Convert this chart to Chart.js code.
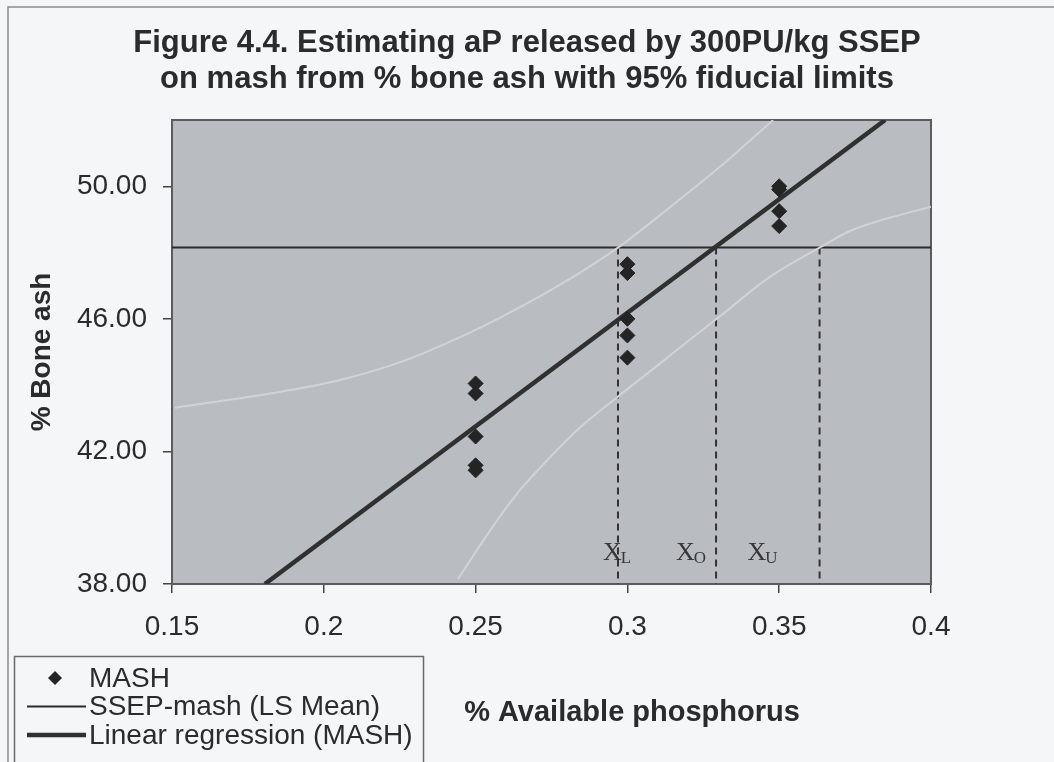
<!DOCTYPE html>
<html>
<head>
<meta charset="utf-8">
<script src="https://cdn.jsdelivr.net/npm/chart.js@4.4.1/dist/chart.umd.min.js"></script>
<style>
    html, body { margin: 0; padding: 0; background: #f5f6f8; }
    #wrap { width: 1054px; height: 762px; }
</style>
</head>
<body>
<div id="wrap"><canvas id="fig44"></canvas></div>
<script>
// MASH bone ash observations
const mashX = [0.25, 0.25, 0.25, 0.25, 0.25, 0.3, 0.3, 0.3, 0.3, 0.3, 0.35, 0.35, 0.35, 0.35];
const mashY = [44.05, 43.75, 42.45, 41.58, 41.43, 47.65, 47.38, 46.0, 45.5, 44.83, 50.0, 49.9, 49.25, 48.8];

// SSEP-mash LS mean bone ash
const lsMean = 48.15;

// regression line, ends where it leaves the plot
const regX = [0.1806, 0.3849];
const regY = [38, 52];

// 95% fiducial bands
const upperX = [0.151, 0.15995, 0.1818, 0.2047, 0.2266, 0.2485, 0.2584, 0.2773, 0.2969, 0.3131, 0.33, 0.34, 0.348];
const upperY = [43.32, 43.44, 43.74, 44.14, 44.74, 45.6, 46.05, 47.0, 48.15, 49.3, 50.55, 51.35, 52.0];
const lowerX = [0.2442, 0.2548, 0.2646, 0.2745, 0.2844, 0.2952, 0.3107, 0.3196, 0.3315, 0.3459, 0.3633, 0.3733, 0.3864, 0.4];
const lowerY = [38.15, 39.62, 40.83, 41.82, 42.72, 43.53, 44.65, 45.3, 46.15, 47.2, 48.15, 48.65, 49.05, 49.38];

// XL, XO, XU
const limitX = [0.2969, 0.3292, 0.3633];
const limitNames = ['L', 'O', 'U'];

const xTicks = [0.15, 0.2, 0.25, 0.3, 0.35, 0.4];
const yTicks = [38, 42, 46, 50];

const ink = '#2b2b2b';
const sans = '"Liberation Sans", Arial, sans-serif';
const serif = '"Liberation Serif", "Times New Roman", serif';
const pts = (xs, ys) => xs.map((x, i) => ({ x, y: ys[i] }));

Chart.defaults.font.family = sans;
Chart.defaults.color = ink;

const frame = {
    id: 'frame',
    beforeDraw(chart) {
        const { ctx, chartArea: a } = chart;
        ctx.save();
        ctx.fillStyle = '#f5f6f8';
        ctx.fillRect(0, 0, chart.width, chart.height);
        ctx.strokeStyle = '#8c8c8c';
        ctx.lineWidth = 1.5;
        ctx.strokeRect(8, 7, chart.width + 20, chart.height + 20);
        ctx.fillStyle = '#b9bcc0';
        ctx.fillRect(a.left, a.top, a.width, a.height);
        ctx.restore();
    },
    beforeDatasetsDraw(chart) {
        const { ctx, chartArea: a } = chart;
        ctx.save();
        ctx.strokeStyle = '#5c5c5c';
        ctx.lineWidth = 2;
        ctx.strokeRect(a.left, a.top, a.width, a.height);
        ctx.restore();
    }
};

// X_L / X_O / X_U labels near the foot of the dashed lines
const limitLabels = {
    id: 'limitLabels',
    afterDatasetsDraw(chart) {
        const { ctx, scales: { x, y } } = chart;
        const shift = [-15, -40, -72];
        const base = y.getPixelForValue(38) - 24;
        ctx.save();
        ctx.fillStyle = '#383838';
        ctx.textBaseline = 'alphabetic';
        limitX.forEach((v, i) => {
            const px = x.getPixelForValue(v) + shift[i];
            ctx.font = '26px ' + serif;
            ctx.fillText('X', px, base);
            const w = ctx.measureText('X').width;
            ctx.font = '17px ' + serif;
            ctx.fillText(limitNames[i], px + w - 1, base + 3);
        });
        ctx.restore();
    }
};

// boxed legend in the lower left, plus the x axis title beside it
const boxLegend = {
    id: 'boxLegend',
    afterDraw(chart) {
        const { ctx } = chart;
        const items = chart.data.datasets.filter(d => d.legendKind);
        ctx.save();
        ctx.strokeStyle = '#6a6a6a';
        ctx.lineWidth = 1.5;
        ctx.strokeRect(14.5, 656.5, 409, 130);
        ctx.font = '28px ' + sans;
        ctx.textBaseline = 'middle';
        items.forEach((d, i) => {
            const yy = 678 + i * 28.5;
            ctx.fillStyle = d.borderColor;
            ctx.strokeStyle = d.borderColor;
            if (d.legendKind === 'marker') {
                ctx.beginPath();
                ctx.moveTo(55, yy - 7);
                ctx.lineTo(62, yy);
                ctx.lineTo(55, yy + 7);
                ctx.lineTo(48, yy);
                ctx.closePath();
                ctx.fill();
            } else {
                ctx.lineWidth = d.borderWidth;
                ctx.beginPath();
                ctx.moveTo(27, yy);
                ctx.lineTo(86, yy);
                ctx.stroke();
            }
            ctx.fillStyle = ink;
            ctx.fillText(d.label, 89, yy + 1);
        });

        const t = chart.options.scales.x.title;
        ctx.font = 'bold 29px ' + sans;
        ctx.textAlign = 'center';
        ctx.fillStyle = ink;
        ctx.fillText(t.text, 632, 713);
        ctx.restore();
    }
};

const dashed = limitX.map(v => ({
    type: 'line',
    data: [{ x: v, y: lsMean }, { x: v, y: yTicks[0] }],
    borderColor: '#333333',
    borderWidth: 2,
    borderDash: [7, 5],
    pointRadius: 0,
    order: 3
}));

new Chart(document.getElementById('fig44'), {
    type: 'scatter',
    data: {
        datasets: [
            {
                label: 'MASH',
                legendKind: 'marker',
                data: pts(mashX, mashY),
                pointStyle: 'rectRot',
                pointRadius: 7.5,
                backgroundColor: '#242424',
                borderColor: '#242424',
                borderWidth: 1,
                order: 0
            },
            {
                label: 'SSEP-mash (LS Mean)',
                legendKind: 'line',
                type: 'line',
                data: [{ x: xTicks[0], y: lsMean }, { x: xTicks[xTicks.length - 1], y: lsMean }],
                borderColor: '#2a2a2a',
                borderWidth: 2,
                pointRadius: 0,
                order: 5
            },
            {
                label: 'Linear regression (MASH)',
                legendKind: 'line',
                type: 'line',
                data: pts(regX, regY),
                borderColor: '#303030',
                borderWidth: 4.5,
                pointRadius: 0,
                order: 1
            },
            {
                type: 'line',
                data: pts(upperX, upperY),
                borderColor: '#d0d3d7',
                borderWidth: 2,
                cubicInterpolationMode: 'monotone',
                pointRadius: 0,
                order: 2
            },
            {
                type: 'line',
                data: pts(lowerX, lowerY),
                borderColor: '#d0d3d7',
                borderWidth: 2,
                cubicInterpolationMode: 'monotone',
                pointRadius: 0,
                order: 2
            },
            ...dashed
        ]
    },
    options: {
        responsive: true,
        maintainAspectRatio: false,
        animation: false,
        layout: { padding: 0 },
        plugins: {
            legend: { display: false },
            tooltip: { enabled: false },
            title: {
                display: true,
                text: ['Figure 4.4. Estimating aP released by 300PU/kg SSEP',
                       'on mash from % bone ash with 95% fiducial limits'],
                color: ink,
                font: { size: 31, weight: 'bold', lineHeight: 36 / 31 },
                padding: { top: 25, bottom: 23 }
            }
        },
        scales: {
            x: {
                type: 'linear',
                min: 0.15,
                max: 0.4,
                afterBuildTicks: s => { s.ticks = xTicks.map(v => ({ value: v })); },
                afterFit: s => { s.height = 178; },
                grid: { drawOnChartArea: false, tickLength: 9, color: '#444', lineWidth: 1.5 },
                border: { display: false },
                ticks: {
                    color: ink,
                    font: { size: 28 },
                    padding: 17,
                    maxRotation: 0,
                    autoSkip: false,
                    callback: v => String(+v.toFixed(2))
                },
                title: { display: false, text: '% Available phosphorus' }
            },
            y: {
                min: 38,
                max: 52,
                afterBuildTicks: s => { s.ticks = yTicks.map(v => ({ value: v })); },
                afterFit: s => { s.width = 172; },
                grid: { drawOnChartArea: false, tickLength: 9, color: '#444', lineWidth: 1.5 },
                border: { display: false },
                ticks: {
                    color: ink,
                    font: { size: 28 },
                    padding: 16,
                    callback: v => v.toFixed(2)
                },
                title: {
                    display: true,
                    text: '% Bone ash',
                    color: ink,
                    font: { size: 28, weight: 'bold' },
                    padding: { top: 25, bottom: 0 }
                }
            },
            yR: {
                position: 'right',
                afterFit: s => { s.width = 123; },
                grid: { display: false },
                border: { display: false },
                ticks: { display: false }
            }
        }
    },
    plugins: [frame, limitLabels, boxLegend]
});
</script>
</body>
</html>
